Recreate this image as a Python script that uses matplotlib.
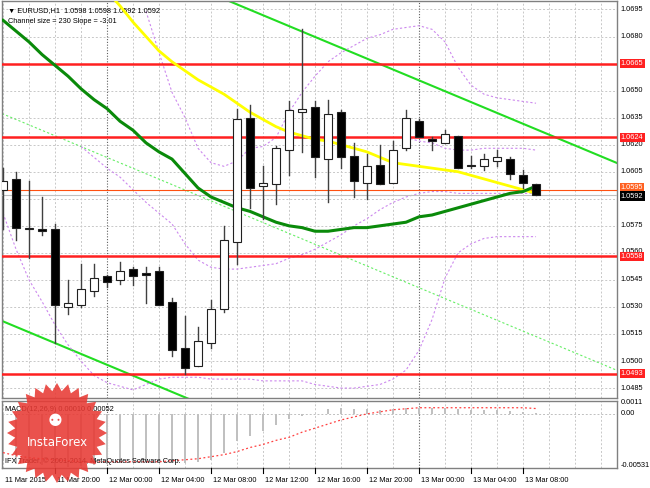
import numpy as np
import matplotlib.pyplot as plt
from matplotlib.patches import Rectangle, Polygon

# --- data (EURUSD H1, 11 Mar 16:00 .. 13 Mar 09:00) ---
opens = [1.0595, 1.0601, 1.0573, 1.0573, 1.0573, 1.0530, 1.0531, 1.0539, 1.0547, 1.0545,
         1.0551, 1.0549, 1.0550, 1.0533, 1.0507, 1.0497, 1.0510, 1.0529, 1.0566, 1.0635,
         1.0597, 1.0598, 1.0617, 1.0638, 1.0641, 1.0612, 1.0638, 1.0614, 1.0599, 1.0609,
         1.0599, 1.0618, 1.0633, 1.0623, 1.0621, 1.0625, 1.0609, 1.0608, 1.0611, 1.0612,
         1.0603, 1.0598]
highs = [1.0607, 1.0605, 1.0600, 1.0591, 1.0576, 1.0545, 1.0554, 1.0554, 1.0548, 1.0555,
         1.0552, 1.0552, 1.0552, 1.0535, 1.0525, 1.0519, 1.0534, 1.0575, 1.0640, 1.0642,
         1.0608, 1.0619, 1.0644, 1.0684, 1.0644, 1.0645, 1.0639, 1.0621, 1.0615, 1.0620,
         1.0622, 1.0639, 1.0634, 1.0624, 1.0628, 1.0625, 1.0614, 1.0615, 1.0617, 1.0613,
         1.0606, 1.0598]
lows = [1.0573, 1.0567, 1.0557, 1.0570, 1.0510, 1.0526, 1.0530, 1.0536, 1.0541, 1.0543,
        1.0542, 1.0532, 1.0531, 1.0503, 1.0493, 1.0497, 1.0507, 1.0527, 1.0554, 1.0585,
        1.0579, 1.0587, 1.0603, 1.0616, 1.0602, 1.0588, 1.0607, 1.0591, 1.0590, 1.0598,
        1.0599, 1.0617, 1.0624, 1.0617, 1.0621, 1.0607, 1.0607, 1.0606, 1.0608, 1.0601,
        1.0596, 1.0592]
closes = [1.0600, 1.0574, 1.0574, 1.0572, 1.0531, 1.0532, 1.0540, 1.0546, 1.0544, 1.0550,
          1.0547, 1.0548, 1.0531, 1.0506, 1.0496, 1.0511, 1.0529, 1.0567, 1.0634, 1.0596,
          1.0599, 1.0618, 1.0639, 1.0640, 1.0613, 1.0637, 1.0613, 1.0600, 1.0608, 1.0598,
          1.0617, 1.0635, 1.0624, 1.0622, 1.0626, 1.0607, 1.0608, 1.0612, 1.0613, 1.0604,
          1.0599, 1.0592]

# slow MA (dark green) and fast MA (yellow)
ma_green = [1.0689, 1.0683, 1.0677, 1.0670, 1.0664, 1.0658, 1.0651, 1.0645, 1.0640, 1.0633,
            1.0628, 1.0621, 1.0616, 1.0612, 1.0604, 1.0596, 1.0591, 1.0588, 1.0585, 1.0583,
            1.0580, 1.0577, 1.0575, 1.0574, 1.0572, 1.0572, 1.0573, 1.0574, 1.0574, 1.0575,
            1.0576, 1.0577, 1.0580, 1.0581, 1.0583, 1.0585, 1.0587, 1.0589, 1.0591, 1.0593,
            1.0594, 1.0597]
ma_yellow = [np.nan] * 8 + [1.0705, 1.0697, 1.0688, 1.0680, 1.0672, 1.0666, 1.0661, 1.0656,
             1.0652, 1.0648, 1.0643, 1.0638, 1.0634, 1.0630, 1.0627, 1.0625, 1.0623, 1.0622,
             1.0620, 1.0618, 1.0616, 1.0613, 1.0610, 1.0609, 1.0608, 1.0607, 1.0606, 1.0605,
             1.0603, 1.0601, 1.0599, 1.0597, 1.0595, 1.0593]

# bands (purple dotted)
band_upper = [np.nan] * 11 + [1.0694, 1.0671, 1.0649, 1.0635, 1.0618, 1.0610, 1.0608, 1.0611,
              1.0618, 1.0619, 1.0624, 1.0638, 1.0649, 1.0658, 1.0666, 1.0671, 1.0675, 1.0679,
              1.0681, 1.0684, 1.0685, 1.0686, 1.0684, 1.0677, 1.0663, 1.0653, 1.0648, 1.0646,
              1.0645, 1.0644, 1.0643]
band_lower = [1.0582, 1.0562, 1.0545, 1.0533, 1.0520, 1.0509, 1.0500, 1.0492, 1.0488, 1.0486,
              1.0484, 1.0487, 1.0490, 1.0491, 1.0491, 1.0491, 1.0490, 1.0490, 1.0490, 1.0490,
              1.0489, 1.0489, 1.0489, 1.0489, 1.0487, 1.0486, 1.0485, 1.0485, 1.0486, 1.0487,
              1.0490, 1.0495, 1.0506, 1.0523, 1.0546, 1.0560, 1.0565, 1.0568, 1.0569, 1.0569,
              1.0569, 1.0569]
band_inner = [np.nan] * 6 + [1.0619, 1.0613, 1.0607, 1.0602, 1.0595, 1.0588, 1.0582, 1.0576,
              1.0565, 1.0556, 1.0552, 1.0551, 1.0551, 1.0552, 1.0553, 1.0554, 1.0557, 1.0559,
              1.0562, 1.0566, 1.0570, 1.0575, 1.0579, 1.0584, 1.0588, 1.0591, 1.0593, 1.0594,
              1.0594, 1.0593, 1.0593, 1.0593, 1.0593, 1.0593, 1.0593, 1.0593]
band_inner_up = [np.nan] * 31 + [1.0624, 1.0622, 1.0621, 1.0618, 1.0617, 1.0617, 1.0618,
                 1.0618, 1.0618, 1.0618, 1.0617]

# linear regression channel
chan_top0 = 1.0752       # upper line at first bar
chan_size = 0.0230
chan_slope = -0.000301   # per bar

levels = [1.0665, 1.0624, 1.0558, 1.0493]
price_ticks = [1.0695, 1.0680, 1.0650, 1.0635, 1.0620, 1.0605, 1.0575, 1.0545, 1.0530,
               1.0515, 1.0500, 1.0485]
ask_line = 1.0595
bid = 1.0592

macd_hist = [-0.0046, -0.0049, -0.0050, -0.0050, -0.0052, -0.0052, -0.0051, -0.0050, -0.0049,
             -0.0048, -0.0047, -0.0047, -0.0047, -0.0048, -0.0048, -0.0047, -0.0045, -0.0038,
             -0.0027, -0.0022, -0.0017, -0.0011, -0.0005, -0.0002, 0.0000, 0.0005, 0.0006,
             0.0005, 0.0005, 0.0004, 0.0005, 0.0006, 0.0006, 0.0006, 0.0006, 0.0005, 0.0004,
             0.0004, 0.0004, 0.0003, 0.0002, 0.0001]
macd_signal = [-0.0038, -0.0041, -0.0043, -0.0044, -0.0045, -0.0046, -0.0047, -0.0047,
               -0.0047, -0.0047, -0.0047, -0.0047, -0.0047, -0.0046, -0.0045, -0.0044,
               -0.0042, -0.0040, -0.0037, -0.0033, -0.0030, -0.0026, -0.0023, -0.0018,
               -0.0014, -0.0010, -0.0006, -0.0003, 0.0000, 0.0002, 0.0004, 0.0005, 0.0006,
               0.0006, 0.0006, 0.0006, 0.0006, 0.0006, 0.0006, 0.0006, 0.0006, 0.00052]

time_labels = ["11 Mar 2015", "11 Mar 20:00", "12 Mar 00:00", "12 Mar 04:00", "12 Mar 08:00",
               "12 Mar 12:00", "12 Mar 16:00", "12 Mar 20:00", "13 Mar 00:00", "13 Mar 04:00",
               "13 Mar 08:00"]
time_label_bars = [0, 4, 8, 12, 16, 20, 24, 28, 32, 36, 40]
day_breaks = [8, 32]

W, H = 650, 488
fig = plt.figure(figsize=(6.5, 4.88), dpi=100)
fig.patch.set_facecolor('white')
FONT = 'Liberation Sans'
FS = 5.3

def fx(px):
    return px / W

def fy(py):
    return 1 - py / H

# pixel geometry of the two panes
ax = fig.add_axes([fx(2), fy(398), fx(615), (398 - 1) / H])
axm = fig.add_axes([fx(2), fy(468), fx(615), (468 - 401) / H])

XMIN, XMAX = -0.08, 47.23
n = len(closes)
idx = np.arange(n)

for a in (ax, axm):
    a.set_xlim(XMIN, XMAX)
    a.set_xticks([])
    a.set_yticks([])
    for s in a.spines.values():
        s.set_color('#808080')
        s.set_linewidth(1.0)
    # grid
    for g in range(0, 48, 2):
        if g in day_breaks:
            continue
        a.axvline(g, color='#c8c8c8', lw=0.7, ls=(0, (2, 2)), zorder=0)
    for d in day_breaks:
        a.axvline(d, color='#606060', lw=0.8, ls=(0, (1, 1.5)), zorder=0.5)

ax.set_ylim(1.04795, 1.06997)
for p in price_ticks + [1.0665, 1.0590, 1.0560]:
    ax.axhline(p, color='#c8c8c8', lw=0.7, ls=(0, (2, 2)), zorder=0)

# channel
xx = np.array([XMIN, XMAX])
top = chan_top0 + chan_slope * xx
ax.plot(xx, top, color='#22dd22', lw=1.5, zorder=2)
ax.plot(xx, top - chan_size, color='#22dd22', lw=1.5, zorder=2)
ax.plot(xx, top - chan_size / 2, color='#66ee66', lw=0.8, ls=(0, (2, 2)), zorder=2)

# bands
for band in (band_upper, band_lower, band_inner, band_inner_up):
    ax.plot(idx[:len(band)], band, color='#cc88ee', lw=0.8, ls=(0, (2, 2)), zorder=2)

# levels
for lv in levels:
    ax.axhline(lv, color='#ff2020', lw=1.8, zorder=3)
ax.axhline(ask_line, color='#ff5010', lw=0.8, zorder=3)
ax.axhline(bid, color='#c0c0c0', lw=0.8, zorder=3)

# moving averages
ax.plot(idx, ma_yellow, color='#ffff00', lw=2.0, zorder=4)
ax.plot(idx, ma_green, color='#0a8a0a', lw=2.2, zorder=4)

# candles
bw = 0.62
for i in range(n):
    o, h, l, c = opens[i], highs[i], lows[i], closes[i]
    ax.plot([i, i], [l, h], color='#404040', lw=1.0, zorder=5)
    lo, hi = min(o, c), max(o, c)
    hgt = max(hi - lo, 0.00003)
    face = 'white' if c >= o else 'black'
    ax.add_patch(Rectangle((i - bw / 2, lo), bw, hgt, facecolor=face,
                           edgecolor='#202020', lw=0.8, zorder=6))

# right price scale
for p in price_ticks:
    ax.text(XMAX + 0.3, p, f"{p:.4f}", fontsize=FS, family=FONT, va='center',
            ha='left', color='black', clip_on=False)
ax.text(XMAX + 0.3, 1.0561, "1.0560", fontsize=FS, family=FONT, va='center',
        ha='left', color='black', clip_on=False, zorder=1)
for lv in levels:
    ax.text(XMAX + 0.3, lv, f"{lv:.4f}", fontsize=FS, family=FONT, va='center', ha='left',
            color='white', clip_on=False, zorder=8,
            bbox=dict(boxstyle='square,pad=0.15', fc='#ff2020', ec='none'))
ax.text(XMAX + 0.3, ask_line + 0.00012, f"{ask_line:.4f}", fontsize=FS, family=FONT,
        va='center', ha='left', color='white', clip_on=False, zorder=8,
        bbox=dict(boxstyle='square,pad=0.15', fc='#ff6020', ec='none'))
ax.text(XMAX + 0.3, bid - 0.00005, f"{bid:.4f}", fontsize=FS, family=FONT, va='center',
        ha='left', color='white', clip_on=False, zorder=9,
        bbox=dict(boxstyle='square,pad=0.15', fc='black', ec='none'))

# header
ax.text(0.01, 0.985, "\u25BC EURUSD,H1  1.0598 1.0598 1.0592 1.0592", transform=ax.transAxes,
        fontsize=FS, family=FONT, va='top', ha='left', color='black')
ax.text(0.01, 0.958, "Channel size = 230 Slope = -3.01", transform=ax.transAxes,
        fontsize=FS, family=FONT, va='top', ha='left', color='black')

# MACD pane
axm.set_ylim(-0.00531, 0.00126)
axm.axhline(0, color='#c0c0c0', lw=0.7, ls=(0, (2, 2)), zorder=0)
axm.bar(idx, macd_hist, width=0.22, color='#c0c0c0', zorder=2)
axm.plot(idx, macd_signal, color='#ff4040', lw=0.9, ls=(0, (1.5, 2)), zorder=3)
axm.text(0.005, 0.93, "MACD(12,26,9) 0.00010 0.00052", transform=axm.transAxes,
         fontsize=FS, family=FONT, va='top', ha='left', color='black')
axm.text(0.005, 0.04, "IFX Trader, \u00a9 2001-2014, MetaQuotes Software Corp.",
         transform=axm.transAxes, fontsize=FS, family=FONT, va='bottom', ha='left',
         color='black')
axm.text(XMAX + 0.3, 0.0011, "0.0011", fontsize=FS, family=FONT, va='center', ha='left',
         clip_on=False)
axm.text(XMAX + 0.3, 0.0, "0.00", fontsize=FS, family=FONT, va='center', ha='left',
         clip_on=False)
axm.text(XMAX + 0.3, -0.0051, "-0.00531", fontsize=FS, family=FONT, va='center', ha='left',
         clip_on=False)

# time axis
for b, lab in zip(time_label_bars, time_labels):
    xpix = 2 + (b - XMIN) / (XMAX - XMIN) * 615
    if b > 0:
        fig.add_artist(plt.Line2D([fx(xpix), fx(xpix)], [fy(468), fy(473)], color='black',
                                  lw=0.8))
    fig.text(fx(xpix + 2), fy(480), lab, fontsize=FS, family=FONT, va='center', ha='left')

# InstaForex badge
cx, cy = 57, 433
ang = np.linspace(0, 2 * np.pi, 56, endpoint=False)
rad = np.where(np.arange(56) % 2 == 0, 50, 42)
pts = np.column_stack([fx(cx + rad * np.cos(ang)), fy(cy + rad * np.sin(ang))])
fig.add_artist(Polygon(pts, closed=True, transform=fig.transFigure, fc='#e83a34',
                       ec='none', alpha=0.88, zorder=10))
fig.text(fx(cx), fy(cy + 9), "InstaForex", fontsize=8.5, family='DejaVu Sans', color='white',
         ha='center', va='center', zorder=11)
fig.text(fx(cx - 2), fy(cy - 12), "\u2689", fontsize=12, color='white', ha='center',
         va='center', zorder=11)

fig.savefig('out.png', dpi=100)
